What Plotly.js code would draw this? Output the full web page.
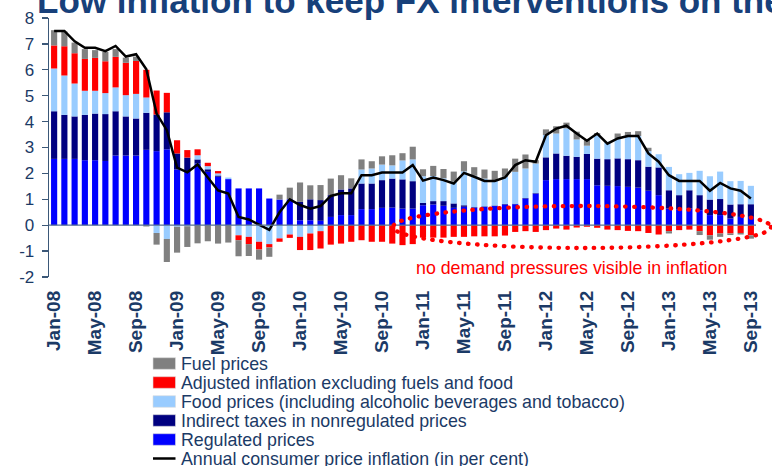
<!DOCTYPE html>
<html><head><meta charset="utf-8">
<script src="https://cdn.plot.ly/plotly-3.0.1.min.js"></script>
<style>html,body{margin:0;padding:0;background:#fff;overflow:hidden}</style>
</head><body><div id="chart" style="width:772px;height:466px"></div>
<script>
const months = ['Jan-08','Feb-08','Mar-08','Apr-08','May-08','Jun-08','Jul-08','Aug-08','Sep-08','Oct-08','Nov-08','Dec-08',
'Jan-09','Feb-09','Mar-09','Apr-09','May-09','Jun-09','Jul-09','Aug-09','Sep-09','Oct-09','Nov-09','Dec-09',
'Jan-10','Feb-10','Mar-10','Apr-10','May-10','Jun-10','Jul-10','Aug-10','Sep-10','Oct-10','Nov-10','Dec-10',
'Jan-11','Feb-11','Mar-11','Apr-11','May-11','Jun-11','Jul-11','Aug-11','Sep-11','Oct-11','Nov-11','Dec-11',
'Jan-12','Feb-12','Mar-12','Apr-12','May-12','Jun-12','Jul-12','Aug-12','Sep-12','Oct-12','Nov-12','Dec-12',
'Jan-13','Feb-13','Mar-13','Apr-13','May-13','Jun-13','Jul-13','Aug-13','Sep-13'];

const tickLabels = ['Jan-08','May-08','Sep-08','Jan-09','May-09','Sep-09','Jan-10','May-10','Sep-10',
'Jan-11','May-11','Sep-11','Jan-12','May-12','Sep-12','Jan-13','May-13','Sep-13'];

const regulated = [2.56,2.56,2.56,2.51,2.51,2.48,2.69,2.69,2.69,2.91,2.86,2.93,
2.15,2.06,2.38,2.06,1.87,1.78,1.42,1.42,1.42,1.03,0.99,1.00,
0.19,0.19,0.17,0.32,0.39,0.39,0.62,0.62,0.67,0.68,0.64,0.64,
0.77,0.80,0.75,0.67,0.71,0.68,0.71,0.74,0.80,0.81,1.03,1.22,
1.74,1.78,1.78,1.78,1.78,1.54,1.52,1.51,1.48,1.45,1.33,1.16,
0.64,0.62,0.64,0.58,0.39,0.39,0.26,0.32,0.32];

const indirectTaxes = [1.84,1.70,1.64,1.75,1.80,1.81,1.71,1.51,1.43,1.43,1.41,1.43,
0.62,0.55,0.16,0.10,0.05,0.00,0.00,0.00,0.00,0.00,0.00,0.00,
0.71,0.81,0.80,0.84,0.99,1.03,0.99,0.99,1.07,1.12,1.13,1.06,
0.09,0.13,0.18,0.17,0.06,0.02,0.02,0.02,0.02,0.02,0.02,0.02,
0.88,0.99,0.90,0.86,0.97,1.03,1.03,1.07,1.07,1.06,0.93,1.07,
0.71,0.54,0.71,0.58,0.60,0.62,0.54,0.49,0.49];

const food = [1.65,1.52,1.27,0.93,0.88,0.81,0.92,0.82,0.95,0.59,-0.30,-0.53,
-0.06,-0.04,0.16,0.12,0.08,0.06,-0.39,-0.45,-0.64,-0.73,-0.51,-0.36,
-0.45,-0.32,-0.23,0.00,0.00,0.00,0.54,0.58,0.60,0.51,0.73,0.84,
1.03,0.97,0.88,0.84,1.31,1.21,1.07,0.98,1.05,1.23,1.14,1.14,
0.86,0.77,1.06,0.67,0.32,0.90,0.67,0.77,0.86,0.93,0.60,0.51,
0.90,0.81,0.67,0.94,0.90,1.06,0.90,0.90,0.71];

const adjusted = [0.89,1.13,1.17,1.23,1.27,1.23,1.18,1.25,1.27,1.07,0.93,0.75,
0.51,0.29,0.23,0.13,0.09,0.00,-0.19,-0.28,-0.30,-0.13,-0.13,-0.13,
-0.51,-0.64,-0.67,-0.75,-0.71,-0.64,-0.58,-0.64,-0.64,-0.71,-0.77,-0.73,
-0.48,-0.48,-0.48,-0.45,-0.45,-0.43,-0.43,-0.43,-0.40,-0.26,-0.23,-0.26,
-0.19,-0.13,-0.17,-0.09,-0.06,-0.10,-0.17,-0.19,-0.22,-0.23,-0.30,-0.36,
-0.23,-0.19,-0.17,-0.23,-0.39,-0.32,-0.32,-0.30,-0.39];

const fuel = [0.59,0.57,0.41,0.38,0.30,0.36,0.30,0.20,0.17,-0.05,-0.45,-0.89,
-1.00,-0.80,-0.70,-0.62,-0.71,-0.67,-0.62,-0.46,-0.39,-0.36,0.19,0.45,
0.75,0.54,0.58,0.64,0.55,0.39,0.39,0.28,0.32,0.39,0.28,0.49,
0.27,0.39,0.36,0.39,0.39,0.33,0.35,0.36,0.32,0.51,0.54,0.13,
0.22,0.28,0.22,0.30,0.24,0.09,0.00,0.19,0.19,0.19,0.13,0.00,
-0.09,0.00,0.00,-0.15,-0.17,-0.13,-0.06,-0.06,-0.13];

const cpi = [7.5,7.5,7.1,6.85,6.85,6.72,6.92,6.51,6.6,6.02,4.31,3.67,
2.22,2.04,2.34,1.84,1.34,1.22,0.32,0.22,0.03,-0.18,0.5,1.0,
0.78,0.64,0.74,1.13,1.23,1.23,1.93,1.93,2.03,2.03,2.03,2.32,
1.72,1.84,1.74,1.61,2.02,1.87,1.71,1.71,1.84,2.32,2.51,2.45,
3.47,3.73,3.84,3.54,3.26,3.54,3.15,3.35,3.44,3.44,2.77,2.45,
1.93,1.71,1.71,1.71,1.33,1.63,1.42,1.33,1.03];

const yTickVals = [8,7,6,5,4,3,2,1,0,-1,-2];
const yTickLabels = ['8','7','6','5','4','3','2','1','0','-1','-2'];

const legendNames = ['Fuel prices','Adjusted inflation excluding fuels and food',
'Food prices (including alcoholic beverages and tobacco)','Indirect taxes in nonregulated prices',
'Regulated prices','Annual consumer price inflation (in per cent)'];
const titleText = 'Low inflation to keep FX interventions on the';
const noteText = 'no demand pressures visible in inflation';

const C = {fuel:'#808080', adj:'#FF0000', food:'#99CCFF', ind:'#000080', reg:'#0000FF', cpi:'#000000'};
const NAVY = '#1B3A66';
const FONT = 'Liberation Sans, Arial, sans-serif';

const W=772, H=466, M={l:49, r:16, t:18, b:189};
const pw = W-M.l-M.r, ph = H-M.t-M.b;
const px = x => (x-M.l)/pw;
const py = y => (H-M.b-y)/ph;

function bar(name, vals, color){
  return {type:'bar', name:name, x:months, y:vals, marker:{color:color, line:{width:0}}, showlegend:false, hoverinfo:'skip'};
}
const traces = [
  bar(legendNames[4], regulated, C.reg),
  bar(legendNames[3], indirectTaxes, C.ind),
  bar(legendNames[2], food, C.food),
  bar(legendNames[1], adjusted, C.adj),
  bar(legendNames[0], fuel, C.fuel),
  {type:'scatter', mode:'lines', name:legendNames[5], x:months, y:cpi, line:{color:C.cpi, width:2.5}, showlegend:false, hoverinfo:'skip'}
];

const legendColors = [C.fuel, C.adj, C.food, C.ind, C.reg, C.cpi];
const shapes = [
  {type:'line', xref:'paper', yref:'y', x0:0, x1:1, y0:0, y1:0, line:{color:'#56708F', width:1.3}, layer:'above'},
  {type:'circle', xref:'paper', yref:'paper', x0:px(393), x1:px(771), y0:py(248), y1:py(206),
   line:{color:'#FF0000', width:4.3, dash:'0.5px,8.5px'}, layer:'above'}
];
const annotations = [
  {xref:'paper', yref:'paper', x:px(414), y:py(268), xanchor:'left', yanchor:'middle', showarrow:false,
   text:noteText, font:{family:FONT, size:17.8, color:'#FF0000'}}
];
legendNames.forEach((nm, i) => {
  const cy = 363.5 + 19*i;
  if (i < 5) {
    shapes.push({type:'rect', xref:'paper', yref:'paper', x0:px(153), x1:px(175.5), y0:py(cy+5.8), y1:py(cy-5.8),
      fillcolor:legendColors[i], line:{width:0.6, color:'#DDDDDD'}});
  } else {
    shapes.push({type:'line', xref:'paper', yref:'paper', x0:px(153), x1:px(175.5), y0:py(cy), y1:py(cy),
      line:{color:legendColors[i], width:2.5}});
  }
  annotations.push({xref:'paper', yref:'paper', x:px(178.5), y:py(cy), xanchor:'left', yanchor:'middle',
    showarrow:false, text:nm, font:{family:FONT, size:17.8, color:NAVY}});
});

const layout = {
  width:W, height:H, margin:M, paper_bgcolor:'#FFFFFF', plot_bgcolor:'#FFFFFF',
  barmode:'relative', bargap:0.4, showlegend:false,
  font:{family:FONT, color:NAVY},
  title:{text:titleText, x:37/W, xanchor:'left', xref:'container', y:1-1.2/H, yanchor:'middle', yref:'container',
    font:{family:FONT, size:35, weight:700, color:'#17407A'}},
  xaxis:{type:'category', categoryorder:'array', categoryarray:months, range:[-0.5, months.length-0.5],
    tickmode:'array', tickvals:tickLabels, ticktext:tickLabels, tickangle:-90,
    tickfont:{family:FONT, size:19, weight:700, color:NAVY}, ticks:'', showline:false, showgrid:false, zeroline:false,
    automargin:false, ticklabelstandoff:9},
  yaxis:{range:[-2,8], tickmode:'array', tickvals:yTickVals, ticktext:yTickLabels,
    tickfont:{family:FONT, size:17, color:NAVY}, ticks:'outside', ticklen:6, tickwidth:1.3, tickcolor:'#3B5878',
    showline:true, linecolor:'#3B5878', linewidth:1.3, showgrid:false, zeroline:false, automargin:false,
    ticklabelstandoff:4},
  shapes:shapes, annotations:annotations
};

Plotly.newPlot('chart', traces, layout, {staticPlot:true, displayModeBar:false}).then(() => {
  document.querySelectorAll('.shapelayer path').forEach(p => {
    if ((p.style.strokeDasharray || '').indexOf('0.5') === 0) {
      p.style.strokeLinecap = 'round';
    }
  });
});
</script></body></html>
